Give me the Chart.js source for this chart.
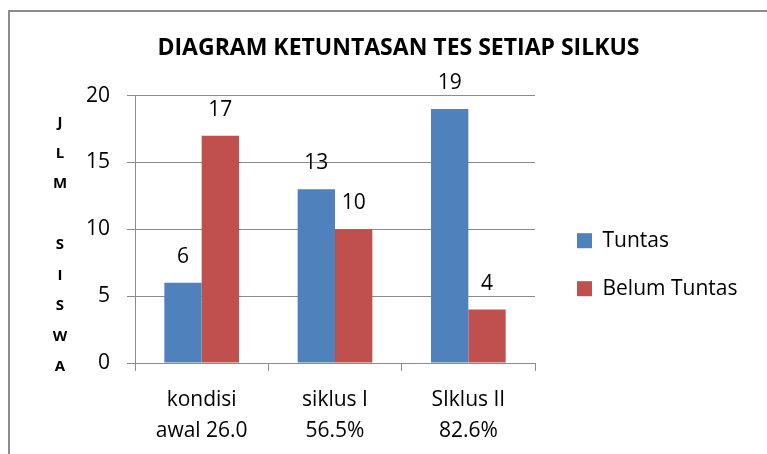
<!DOCTYPE html>
<html>
<head>
<meta charset="utf-8">
<script src="https://cdn.jsdelivr.net/npm/chart.js@4/dist/chart.umd.min.js"></script>
<style>
  body { margin: 0; background: #fff; }
  #wrap { position: relative; width: 767px; height: 454px; overflow: hidden; }
  #frame { position: absolute; left: 8px; top: 10px; width: 900px; height: 600px; border: 2px solid #8c8c8c; }
  canvas { position: absolute; left: 0; top: 0; }
</style>
</head>
<body>
<div id="wrap">
  <div id="frame"></div>
  <canvas id="chart" width="767" height="454"></canvas>
</div>
<script>
'use strict';
var categories = [['kondisi', 'awal 26.0'], ['siklus I', '56.5%'], ['SIklus II', '82.6%']];
var tuntas = [6, 13, 19];
var belumTuntas = [17, 10, 4];
var yTicks = [0, 5, 10, 15, 20];
var yTitleLetters = ['J', 'L', 'M', '', 'S', 'I', 'S', 'W', 'A'];
var font = '"Open Sans", sans-serif';
var legendWidth = 202;

// angka di atas batang
var barLabels = {
    id: 'barLabels',
    afterDatasetsDraw: function(chart) {
        var ctx = chart.ctx;
        ctx.save();
        ctx.font = '21px ' + font;
        ctx.fillStyle = '#000';
        ctx.textAlign = 'center';
        ctx.textBaseline = 'middle';
        chart.data.datasets.forEach(function(ds, i) {
            chart.getDatasetMeta(i).data.forEach(function(bar, j) {
                ctx.fillText(ds.data[j], bar.x, bar.y - 26);
            });
        });
        ctx.restore();
    }
};

// judul sumbu y, huruf disusun ke bawah
var yTitle = {
    id: 'yTitle',
    afterDraw: function(chart) {
        var ctx = chart.ctx;
        ctx.save();
        ctx.font = 'bold 15px ' + font;
        ctx.fillStyle = '#000';
        ctx.textAlign = 'center';
        ctx.textBaseline = 'middle';
        for (var i = 0; i < yTitleLetters.length; i++) {
            ctx.fillText(yTitleLetters[i], 60, 123 + i * 30.5);
        }
        ctx.restore();
    }
};

// lebar legenda dipaksa, lalu digeser sedikit ke kanan
var legendFix = {
    id: 'legendFix',
    beforeLayout: function(chart) {
        var lg = chart.legend;
        if (lg && !lg._fixed) {
            var fit = lg.fit;
            lg.fit = function() {
                fit.call(this);
                this.width = legendWidth;
            };
            lg._fixed = true;
        }
    },
    afterLayout: function(chart) {
        var lg = chart.legend;
        if (lg) {
            lg.left += 15;
            lg.right += 15;
        }
    }
};

function drawChart() {
    new Chart(document.getElementById('chart'), {
        type: 'bar',
        data: {
            labels: categories,
            datasets: [
                { label: 'Tuntas', data: tuntas, backgroundColor: '#4F81BD' },
                { label: 'Belum Tuntas', data: belumTuntas, backgroundColor: '#C0504D' }
            ]
        },
        options: {
            responsive: false,
            animation: false,
            layout: { padding: { left: 60, right: 30, top: 35, bottom: 0 } },
            categoryPercentage: 0.56,
            barPercentage: 1,
            plugins: {
                title: {
                    display: true,
                    text: 'DIAGRAM KETUNTASAN TES SETIAP SILKUS',
                    color: '#000',
                    font: { family: font, size: 23, weight: 'bold' },
                    padding: { top: 0, bottom: 33 }
                },
                legend: {
                    position: 'right',
                    title: { display: true, text: ' ', padding: { top: 26 } },
                    labels: {
                        color: '#000',
                        boxWidth: 15,
                        boxHeight: 15,
                        padding: 27,
                        font: { family: font, size: 21 }
                    }
                },
                tooltip: { enabled: false }
            },
            scales: {
                x: {
                    afterFit: function(scale) { scale.height = 91; },
                    grid: { offset: true, drawOnChartArea: false, color: '#8c8c8c', tickLength: 8 },
                    border: { color: '#8c8c8c' },
                    ticks: { color: '#000', font: { family: font, size: 21, lineHeight: 1.45 }, padding: 14 }
                },
                y: {
                    min: 0,
                    max: 20,
                    afterBuildTicks: function(scale) {
                        scale.ticks = yTicks.map(function(v) { return { value: v }; });
                    },
                    afterFit: function(scale) { scale.width = 75; },
                    grid: { color: '#8c8c8c', tickLength: 8 },
                    border: { color: '#8c8c8c' },
                    ticks: { color: '#000', font: { family: font, size: 21 }, padding: 17 }
                }
            }
        },
        plugins: [barLabels, yTitle, legendFix]
    });
}

Promise.all([
    document.fonts.load('21px "Open Sans"'),
    document.fonts.load('bold 23px "Open Sans"')
]).then(drawChart, drawChart);
</script>
</body>
</html>
